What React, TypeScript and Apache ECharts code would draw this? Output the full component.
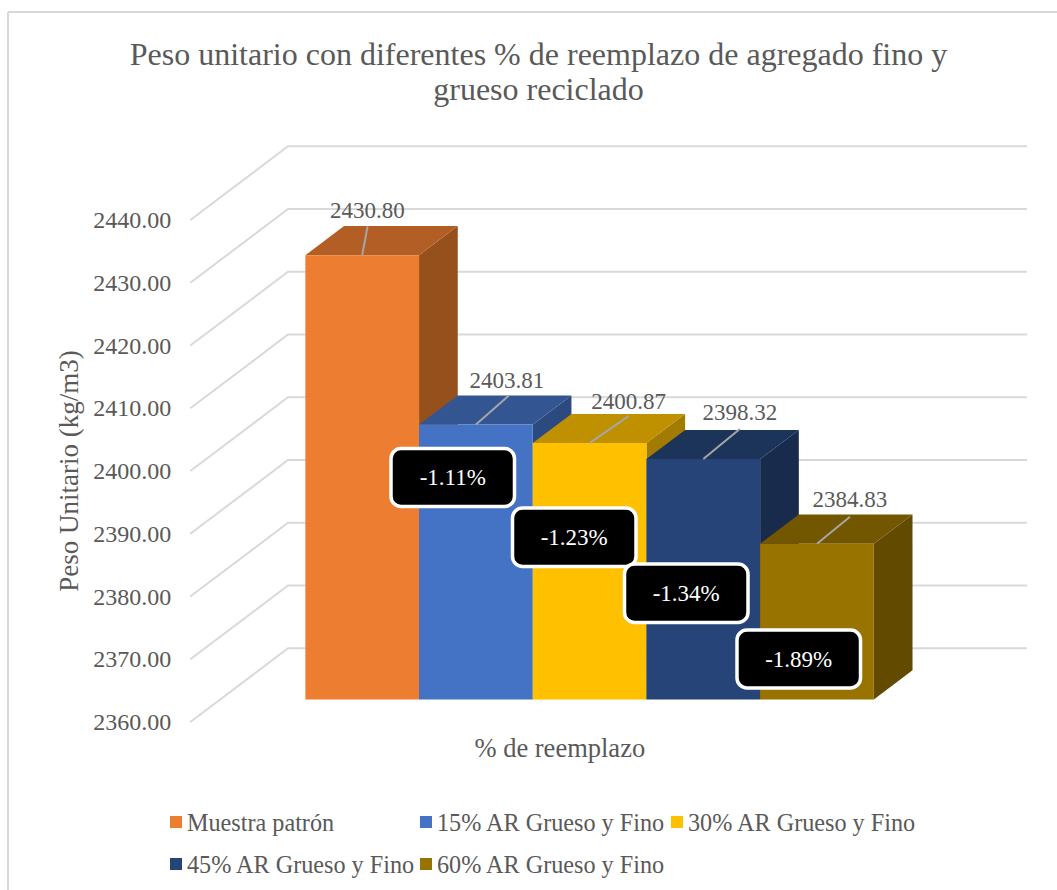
import React, { useEffect, useRef } from "react";
import * as echarts from "echarts";

const titleLines = ["Peso unitario con diferentes % de reemplazo de agregado fino y", "grueso reciclado"];
const seriesNames = ["Muestra patrón", "15% AR Grueso y Fino", "30% AR Grueso y Fino", "45% AR Grueso y Fino", "60% AR Grueso y Fino"];
const seriesValues = [2430.8, 2403.81, 2400.87, 2398.32, 2384.83];
const callouts = ["-1.11%", "-1.23%", "-1.34%", "-1.89%"];
const wallTicks = [2360, 2370, 2380, 2390, 2400, 2410, 2420, 2430, 2440];
const frontColors = ["#ED7D31", "#4472C4", "#FFC000", "#264478", "#997300"];
const topColors = ["#B25E25", "#335693", "#BF9000", "#1C335A", "#735600"];
const sideColors = ["#96501C", "#2B4A80", "#A37B00", "#182B4D", "#624A00"];

const FONT = "Liberation Serif";
const TEXT = "#595959";
const GRID_LINE = "#D9D9D9";
const DEPTH_X = 97.7;
const DEPTH_Y = -73.7;
const BAR_START = 0.305;
const BAR_DEPTH = 0.396;
const WALL_RIGHT = 1027;

// label centre and leader end, relative to the middle of each bar's front top edge
const labelOffsets = [[5.2, -45], [31, -44], [39, -42], [36.5, -47], [33, -44]];
const leaderOffsets = [[5.4, -29], [33, -29], [39, -27], [36.5, -30], [33, -27]];
const calloutBoxes = [
  [391, 448.5, 123.5, 58],
  [512.5, 508, 123.5, 58.5],
  [624.5, 564, 123.5, 58.5],
  [737, 630, 123.5, 58],
];

const wallItem = (_: any, api: any) => {
  const p = api.coord([0, api.value(1)]);
  const left = p[0] - api.size([1, 0])[0] / 2;
  return {
    type: "polyline",
    shape: { points: [[left, p[1]], [left + DEPTH_X, p[1] + DEPTH_Y], [WALL_RIGHT, p[1] + DEPTH_Y]] },
    style: { stroke: GRID_LINE, lineWidth: 2, fill: "none" },
  };
};

const barItem = (i: number) => (_: any, api: any) => {
  const top = api.coord([0, api.value(1)]);
  const base = api.coord([0, 2360]);
  const band = api.size([1, 0])[0];
  const group = band / 1.3;
  const w = group / seriesValues.length;
  const ox = BAR_START * DEPTH_X;
  const oy = BAR_START * DEPTH_Y;
  const x0 = top[0] - group / 2 + i * w + ox;
  const x1 = x0 + w;
  const yT = top[1] + oy;
  const yB = base[1] + oy;
  const dx = BAR_DEPTH * DEPTH_X;
  const dy = BAR_DEPTH * DEPTH_Y;
  const cx = x0 + w / 2;
  return {
    type: "group",
    children: [
      { type: "polygon", shape: { points: [[x1, yT], [x1 + dx, yT + dy], [x1 + dx, yB + dy], [x1, yB]] }, style: { fill: sideColors[i] } },
      { type: "polygon", shape: { points: [[x0, yT], [x0 + dx, yT + dy], [x1 + dx, yT + dy], [x1, yT]] }, style: { fill: topColors[i] } },
      { type: "rect", shape: { x: x0, y: yT, width: w, height: yB - yT }, style: { fill: api.visual("color") } },
      { type: "line", shape: { x1: cx, y1: yT, x2: cx + leaderOffsets[i][0], y2: yT + leaderOffsets[i][1] }, style: { stroke: "#A6A6A6", lineWidth: 2 } },
      {
        type: "text",
        style: {
          text: api.value(1).toFixed(2),
          x: cx + labelOffsets[i][0],
          y: yT + labelOffsets[i][1],
          textAlign: "center",
          textVerticalAlign: "middle",
          fontFamily: FONT,
          fontSize: 23,
          fill: TEXT,
        },
      },
    ],
  };
};

const legendAt = (left: number, data: string[]) => ({
  left,
  top: 805,
  orient: "vertical",
  icon: "rect",
  itemWidth: 12,
  itemHeight: 12,
  itemGap: 18,
  selectedMode: false,
  data,
  textStyle: { fontFamily: FONT, fontSize: 24.2, color: TEXT },
});

export default function App() {
  const ref = useRef<HTMLDivElement>(null);
  useEffect(() => {
    const chart = echarts.init(ref.current!, null, { renderer: "svg" });
    chart.setOption({
      animation: false,
      backgroundColor: "#FFFFFF",
      title: {
        text: titleLines.join("\n"),
        left: 533.5,
        top: 31,
        textAlign: "center",
        textStyle: { fontFamily: FONT, fontSize: 32, fontWeight: "normal", color: TEXT, lineHeight: 35.5 },
      },
      legend: [
        legendAt(165, [seriesNames[0], seriesNames[3]]),
        legendAt(415, [seriesNames[1], seriesNames[4]]),
        legendAt(666, [seriesNames[2]]),
      ],
      grid: { left: 190.3, top: 220, width: 739, height: 502 },
      xAxis: {
        type: "category",
        data: [""],
        name: "% de reemplazo",
        nameLocation: "middle",
        nameGap: 12,
        nameTextStyle: { fontFamily: FONT, fontSize: 26.5, color: TEXT },
        axisLine: { show: false },
        axisTick: { show: false },
        axisLabel: { show: false },
        splitLine: { show: false },
      },
      yAxis: {
        type: "value",
        min: 2360,
        max: 2440,
        interval: 10,
        name: "Peso Unitario (kg/m3)",
        nameLocation: "middle",
        nameGap: 108,
        nameTextStyle: { fontFamily: FONT, fontSize: 27, color: TEXT },
        axisLine: { show: false },
        axisTick: { show: false },
        splitLine: { show: false },
        axisLabel: { margin: 19, fontFamily: FONT, fontSize: 24, color: TEXT, formatter: (v: number) => v.toFixed(2) },
      },
      series: [
        {
          type: "custom",
          name: "walls",
          z: 1,
          clip: false,
          silent: true,
          renderItem: wallItem,
          encode: { x: 0, y: 1 },
          data: wallTicks.map((v) => [0, v]),
        },
        ...seriesNames.map((name, i) => ({
          type: "custom",
          name,
          z: 2 + i,
          clip: false,
          silent: true,
          itemStyle: { color: frontColors[i] },
          renderItem: barItem(i),
          encode: { x: 0, y: 1 },
          data: [[0, seriesValues[i]]],
        })),
      ],
      graphic: [
        { type: "line", z: 50, shape: { x1: 8, y1: 12, x2: 8, y2: 890 }, style: { stroke: GRID_LINE, lineWidth: 2 } },
        { type: "line", z: 50, shape: { x1: 8, y1: 12, x2: 1057, y2: 12 }, style: { stroke: GRID_LINE, lineWidth: 2 } },
        ...callouts.flatMap((text, i) => {
          const [x, y, width, height] = calloutBoxes[i];
          return [
            { type: "rect", z: 100 + i * 2, shape: { x, y, width, height, r: 10 }, style: { fill: "#000000", stroke: "#FFFFFF", lineWidth: 3.5 } },
            {
              type: "text",
              z: 101 + i * 2,
              style: {
                text,
                x: x + width / 2,
                y: y + height / 2,
                textAlign: "center",
                textVerticalAlign: "middle",
                fontFamily: FONT,
                fontSize: 23,
                fill: "#FFFFFF",
              },
            },
          ];
        }),
      ],
    });
    return () => chart.dispose();
  }, []);
  return <div ref={ref} style={{ position: "fixed", left: 0, top: 0, width: 1057, height: 890 }} />;
}
